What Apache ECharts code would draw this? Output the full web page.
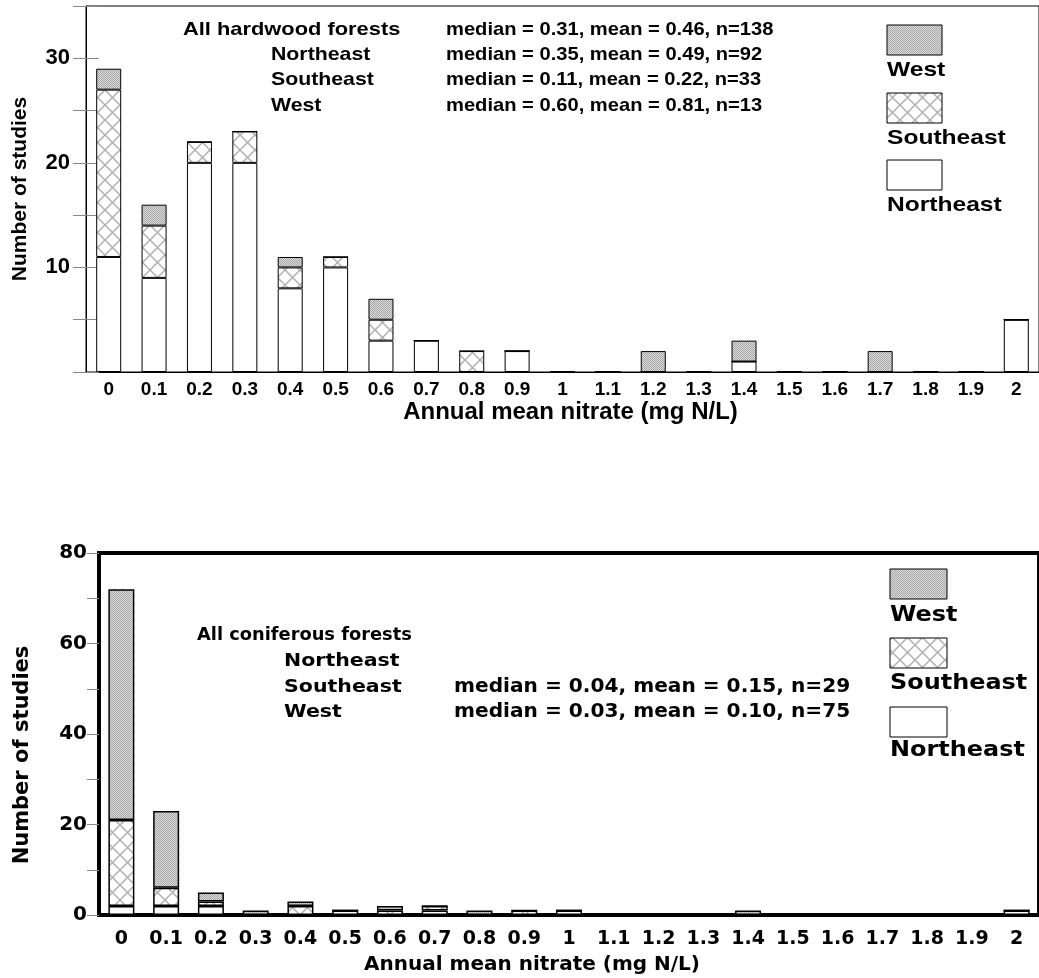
<!DOCTYPE html>
<html><head><meta charset="utf-8">
<script src="https://cdn.jsdelivr.net/npm/echarts@6/dist/echarts.min.js"></script>
<style>html,body{margin:0;padding:0;background:#fff}#c{width:1039px;height:978px}</style>
</head><body><div id="c"></div>
<script>
const categories = ['0','0.1','0.2','0.3','0.4','0.5','0.6','0.7','0.8','0.9','1','1.1','1.2','1.3','1.4','1.5','1.6','1.7','1.8','1.9','2'];
// Hardwood forests
const hardNortheast = [11,9,20,20,8,10,3,3,0,2,0,0,0,0,1,0,0,0,0,0,5];
const hardSoutheast = [16,5,2,3,2,1,2,0,2,0,0,0,0,0,0,0,0,0,0,0,0];
const hardWest      = [2,2,0,0,1,0,2,0,0,0,0,0,2,0,2,0,0,2,0,0,0];
// Coniferous forests
const conNortheast  = [2,2,2,0,0,1,0,1,0,0,1,0,0,0,0,0,0,0,0,0,1];
const conSoutheast  = [19,4,1,0,2,0,1,1,0,1,0,0,0,0,0,0,0,0,0,0,0];
const conWest       = [51,17,2,1,1,0,1,0,1,0,0,0,0,0,1,0,0,0,0,0,0];
const hardLabels = ['All hardwood forests','Northeast','Southeast','West'];
const hardStats  = ['median = 0.31, mean = 0.46, n=138','median = 0.35, mean = 0.49, n=92','median = 0.11, mean = 0.22, n=33','median = 0.60, mean = 0.81, n=13'];
const conLabels  = ['All coniferous forests','Northeast','Southeast','West'];
const conStats   = ['','','median = 0.04, mean = 0.15, n=29','median = 0.03, mean = 0.10, n=75'];
const legendNames = ['West','Southeast','Northeast'];
const xName = 'Annual mean nitrate (mg N/L)';
const yName = 'Number of studies';

function stipple(){const c=document.createElement('canvas');c.width=c.height=2;const g=c.getContext('2d');g.fillStyle='#dcdcdc';g.fillRect(0,0,2,2);g.fillStyle='#a6a6a6';g.fillRect(0,0,1,1);g.fillRect(1,1,1,1);return c;}
function cross(){const s=15;const c=document.createElement('canvas');c.width=c.height=s;const g=c.getContext('2d');g.fillStyle='#fff';g.fillRect(0,0,s,s);g.strokeStyle='#b0b0b0';g.lineWidth=1.5;g.beginPath();g.moveTo(0,0);g.lineTo(s,s);g.moveTo(s,0);g.lineTo(0,s);g.stroke();return c;}
const patW = {image: stipple(), repeat:'repeat'};
const patSE = {image: cross(), repeat:'repeat'};
const fills = {West: patW, Southeast: patSE, Northeast: '#fff'};

const F1 = 'Liberation Sans', F2 = 'DejaVu Sans';
function txt(t,x,y,size,fam,sx){return {type:'text',x:x,y:y,scaleX:sx||1,silent:true,
  style:{text:t,x:0,y:0,fill:'#000',font:'bold '+size+'px "'+fam+'"',align:'left',verticalAlign:'middle',textAlign:'left',textVerticalAlign:'middle'}};}

const graphics = [];
const rowsTop = [30,55,80,106], rowsBot = [635,661,687,712];
hardLabels.forEach((t,i)=>graphics.push(txt(t, i===0?183:271, rowsTop[i], 19, F1, i===0?1.15:1.12)));
hardStats.forEach((t,i)=>{ if(t) graphics.push(txt(t, 446, rowsTop[i], 19, F1, 1.06)); });
conLabels.forEach((t,i)=>graphics.push(txt(t, i===0?197:284, rowsBot[i], 18, F2, i===0?0.99:1.14)));
conStats.forEach((t,i)=>{ if(t) graphics.push(txt(t, 454, rowsBot[i], 19, F2, 1.06)); });
// legends
const legTop = [{sy:25, ly:70},{sy:93, ly:138},{sy:160, ly:205}];
legendNames.forEach((n,i)=>{
  graphics.push({type:'rect',silent:true,shape:{x:887,y:legTop[i].sy,width:55,height:30},style:{fill:fills[n],stroke:'#000',lineWidth:1}});
  graphics.push(txt(n,887,legTop[i].ly,21,F1,1.17));
});
const legBot = [{sy:569, ly:616},{sy:638, ly:684},{sy:707, ly:751}];
legendNames.forEach((n,i)=>{
  graphics.push({type:'rect',silent:true,shape:{x:890,y:legBot[i].sy,width:57,height:30},style:{fill:fills[n],stroke:'#000',lineWidth:1}});
  graphics.push(txt(n,890,legBot[i].ly,21,F2,1.14));
});

const lblTop = {fontSize:19,fontWeight:'bold',fontFamily:F1,color:'#000'};
const lblBot = {fontSize:19,fontWeight:'bold',fontFamily:F2,color:'#000'};
const option = {
  animation:false,
  backgroundColor:'#fff',
  grid:[
    {left:86,top:6,width:959,height:366,show:true,borderColor:'#000',borderWidth:1},
    {left:99,top:553,width:951,height:362,show:true,borderColor:'#000',borderWidth:4}
  ],
  xAxis:[
    {gridIndex:0,type:'category',position:'bottom',data:categories,axisLine:{lineStyle:{color:'#000',width:1}},axisTick:{interval:0,length:6,lineStyle:{color:'#888'}},axisLabel:Object.assign({interval:0,margin:8},lblTop),
     name:xName,nameLocation:'middle',nameGap:28,nameTextStyle:Object.assign({},lblTop,{fontSize:24,padding:[0,0,0,16]})},
    {gridIndex:1,type:'category',position:'bottom',data:categories,axisLine:{lineStyle:{color:'#000',width:4}},axisTick:{interval:0,length:6,lineStyle:{color:'#888'}},axisLabel:Object.assign({interval:0,margin:15},lblBot),
     name:xName,nameLocation:'middle',nameGap:40,nameTextStyle:Object.assign({},lblBot,{fontSize:20,padding:[0,74,0,0]})},
    {gridIndex:0,type:'category',position:'bottom',data:categories,axisLine:{show:false},axisTick:{inside:true,interval:0,length:5,lineStyle:{color:'#888'}},axisLabel:{show:false}},
    {gridIndex:1,type:'category',position:'bottom',data:categories,axisLine:{show:false},axisTick:{inside:true,interval:0,length:6,lineStyle:{color:'#888'}},axisLabel:{show:false}}
  ],
  yAxis:[
    {gridIndex:0,type:'value',position:'left',min:0,max:35,interval:5,splitLine:{show:false},axisLine:{show:true,lineStyle:{color:'#000',width:1}},axisTick:{show:true,length:13,lineStyle:{color:'#888'}},
     axisLabel:Object.assign({margin:16,formatter:v=>(v>0&&v%10===0)?String(v):''},lblTop,{fontSize:22}),
     name:yName,nameLocation:'middle',nameGap:55,nameRotate:90,nameTextStyle:Object.assign({},lblTop,{fontSize:21})},
    {gridIndex:1,type:'value',position:'left',min:0,max:80,interval:10,splitLine:{show:false},axisLine:{show:true,lineStyle:{color:'#000',width:4}},axisTick:{show:true,length:12,lineStyle:{color:'#888'}},
     axisLabel:Object.assign({margin:12,formatter:v=>(v%20===0)?String(v):''},lblBot,{fontSize:20}),
     name:yName,nameLocation:'middle',nameGap:66,nameRotate:90,nameTextStyle:Object.assign({},lblBot,{fontSize:21,padding:[0,42,0,0]})},
    {gridIndex:0,type:'value',position:'left',min:0,max:35,interval:5,splitLine:{show:false},axisLine:{show:false},axisTick:{show:true,inside:true,length:13,lineStyle:{color:'#888'}},axisLabel:{show:false}}
  ],
  graphic:{elements:graphics},
  series:[
    {name:'Northeast',type:'bar',stack:'h',xAxisIndex:0,yAxisIndex:0,barWidth:25,data:hardNortheast,itemStyle:{color:fills.Northeast,borderColor:'#000',borderWidth:1}},
    {name:'Southeast',type:'bar',stack:'h',xAxisIndex:0,yAxisIndex:0,barWidth:25,data:hardSoutheast,itemStyle:{color:patSE,borderColor:'#000',borderWidth:1}},
    {name:'West',type:'bar',stack:'h',xAxisIndex:0,yAxisIndex:0,barWidth:25,data:hardWest,itemStyle:{color:patW,borderColor:'#000',borderWidth:1}},
    {name:'Northeast',type:'bar',stack:'c',xAxisIndex:1,yAxisIndex:1,barWidth:26,data:conNortheast,itemStyle:{color:fills.Northeast,borderColor:'#000',borderWidth:1.5}},
    {name:'Southeast',type:'bar',stack:'c',xAxisIndex:1,yAxisIndex:1,barWidth:26,data:conSoutheast,itemStyle:{color:patSE,borderColor:'#000',borderWidth:1.5}},
    {name:'West',type:'bar',stack:'c',xAxisIndex:1,yAxisIndex:1,barWidth:26,data:conWest,itemStyle:{color:patW,borderColor:'#000',borderWidth:1.5}}
  ]
};
const chart = echarts.init(document.getElementById('c'),null,{renderer:'canvas'});
chart.setOption(option);
</script></body></html>
